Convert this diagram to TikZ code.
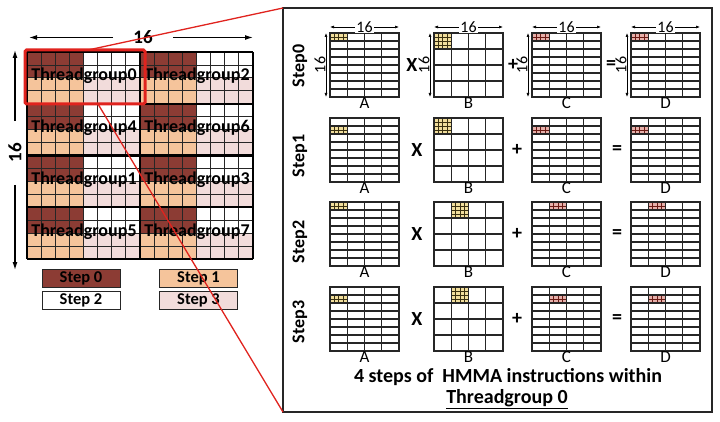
\documentclass[tikz,border=0pt]{standalone}
\usepackage{fontspec}
\setmainfont{Carlito}
\usetikzlibrary{arrows.meta}

\definecolor{stepzero}{HTML}{8C3C34}
\definecolor{stepone}{HTML}{F5C49B}
\definecolor{stepthree}{HTML}{F2DCDB}
\definecolor{zoomred}{HTML}{E0231E}
\definecolor{hiyellow}{HTML}{F1DE9C}
\definecolor{hiyelline}{HTML}{3A3010}
\definecolor{hired}{HTML}{E7B0AA}
\definecolor{hiredline}{HTML}{6B1A14}
\definecolor{gridgray}{HTML}{262626}

\begin{document}
\begin{tikzpicture}[
    x=1pt, y=-1pt,
    cellline/.style={draw=gridgray, line width=0.8pt},
    blockline/.style={draw=black, line width=2.2pt},
    tglabel/.style={font=\bfseries\fontsize{18}{20}\selectfont, inner sep=0pt},
    legendbox/.style={draw=gridgray, line width=1pt, minimum width=78pt, minimum height=18pt,
                      inner sep=0pt, font=\bfseries\fontsize{16.5}{18}\selectfont},
    bigdim/.style={font=\bfseries\fontsize{19}{20}\selectfont, inner ysep=0pt},
    bigarrow/.style={-{Latex[length=8pt,width=5pt]}, line width=1.2pt},
    zoombox/.style={draw=zoomred, line width=3pt, rounded corners=1.5pt},
    zoomline/.style={draw=zoomred, line width=1.3pt},
    panelframe/.style={draw=gridgray, line width=2pt},
    steplabel/.style={rotate=90, font=\bfseries\fontsize{18}{20}\selectfont},
    matbox/.style={draw=gridgray, line width=1.1pt, minimum width=69pt, minimum height=64pt,
                   inner sep=0pt, outer sep=0pt, anchor=north west},
    matline/.style={draw=gridgray, line width=1.1pt},
    tinyline/.style={line width=0.4pt},
    matname/.style={font=\fontsize{17}{18}\selectfont, inner sep=0pt},
    opsign/.style={font=\bfseries\fontsize{20}{20}\selectfont},
    dimline/.style={{Latex[length=4pt,width=3pt]}-{Latex[length=4pt,width=3pt]}, line width=0.6pt},
    dimlabel/.style={font=\fontsize{16}{18}\selectfont, inner sep=1pt},
    caption/.style={font=\bfseries\fontsize{20}{24}\selectfont, inner sep=0pt}
  ]
  \useasboundingbox (0,0) rectangle (720,422);

  % left: the 16x16 tile split into thread groups
  \foreach \bx in {0,1}
    \foreach \by in {0,...,3} {
      \fill[stepzero] ({27+\bx*113},{52+\by*51.75}) rectangle ++(56.5,25.875);
      \fill[stepone] ({27+\bx*113},{77.875+\by*51.75}) rectangle ++(56.5,25.875);
      \fill[stepthree] ({83.5+\bx*113},{77.875+\by*51.75}) rectangle ++(56.5,25.875);
    }
  \foreach \i in {1,...,15} {
    \draw[cellline] ({27+\i*14.125},52) -- ({27+\i*14.125},259);
    \draw[cellline] (27,{52+\i*12.9375}) -- (253,{52+\i*12.9375});
  }
  \foreach \i in {0,1,2}
    \draw[blockline] ({27+\i*113},52) -- ({27+\i*113},259);
  \foreach \j in {0,...,4}
    \draw[blockline] (27,{52+\j*51.75}) -- (253,{52+\j*51.75});
  \foreach \bx/\by/\n in {0/0/0,1/0/2,0/1/4,1/1/6,0/2/1,1/2/3,0/3/5,1/3/7}
    \node[tglabel] (tg\n) at ({84+\bx*113},{76+\by*51.75}) {Threadgroup\n};

  \node[bigdim, inner xsep=20pt] (widthlabel) at (143,37.5) {16};
  \coordinate (widthleft) at (29,37.5);
  \coordinate (widthright) at (253,37.5);
  \draw[bigarrow] (widthlabel) -- (widthleft);
  \draw[bigarrow] (widthlabel) -- (widthright);
  \node[bigdim, rotate=90, inner xsep=22pt] (heightlabel) at (15,153) {16};
  \coordinate (heighttop) at (15,50);
  \coordinate (heightbot) at (15,270);
  \draw[bigarrow] (heightlabel) -- (heighttop);
  \draw[bigarrow] (heightlabel) -- (heightbot);

  \node[legendbox, fill=stepzero] (leg0) at (81,278) {Step 0};
  \node[legendbox, fill=white] (leg2) at (81,300) {Step 2};
  \node[legendbox, fill=stepone] (leg1) at (198.5,278) {Step 1};
  \node[legendbox, fill=stepthree] (leg3) at (198.5,300) {Step 3};

  % right: the four HMMA steps of thread group 0
  \coordinate (panelnw) at (283,8);
  \coordinate (panelse) at (712,412);
  \coordinate (panelsw) at (283,412);
  \draw[panelframe] (panelnw) rectangle (panelse);

  \foreach \s/\ytop/\ay/\bx/\cx/\cy/\ly/\tx/\px/\ex in {0/33/0/0/0/0/66/412/513/611,
      1/118/1/0/0/1/156/417/517/617, 2/202/0/1/1/0/242/417/517/617, 3/287/1/1/1/1/322/417/517/617} {
    \node[steplabel] (step\s) at (300,\ly) {Step\s};
    \foreach \hx/\hy/\hh/\hc/\lc in {330/\ytop+\ay*8/8/hiyellow/hiyelline,
        434+\bx*17.25/\ytop/16/hiyellow/hiyelline,
        532+\cx*17.25/\ytop+\cy*8/8/hired/hiredline,
        631+\cx*17.25/\ytop+\cy*8/8/hired/hiredline} {
      \fill[\hc] ({\hx},{\hy}) rectangle ++(17.25,\hh);
      \foreach \k in {1,2,3}
        \draw[tinyline, draw=\lc] ({\hx+\k*4.3125},{\hy}) -- ++(0,\hh);
      \pgfmathtruncatemacro\nk{\hh/4-1}
      \foreach \k in {1,...,\nk}
        \draw[tinyline, draw=\lc] ({\hx},{\hy+\k*4}) -- ++(17.25,0);
    }
    \foreach \m/\mx/\nr in {A/330/8,B/434/4,C/532/8,D/631/8} {
      \node[matbox] (\m\s) at (\mx,\ytop) {};
      \foreach \i in {1,2,3}
        \draw[matline] ({\mx+\i*17.25},\ytop) -- ++(0,64);
      \pgfmathsetmacro\rh{64/\nr}
      \foreach \j in {1,...,\nr}
        \draw[matline] (\mx,{\ytop+\j*\rh}) -- ++(69,0);
      \node[matname] (name\m\s) at ({\mx+34.5},{\ytop+70}) {\m};
    }
    \node[opsign] (times\s) at (\tx,{\ytop+32}) {X};
    \node[opsign] (plus\s) at (\px,{\ytop+32}) {+};
    \node[opsign] (eq\s) at (\ex,{\ytop+32}) {=};
  }

  \foreach \m in {A,B,C,D} {
    \draw[dimline] ([yshift=6pt]\m0.north west) -- node[dimlabel, fill=white] (width\m) {16}
      ([yshift=6pt]\m0.north east);
    \draw[dimline] ([xshift=-4pt]\m0.north west) -- ([xshift=-4pt]\m0.south west);
    \node[dimlabel, rotate=90] (height\m) at ([xshift=-10pt]\m0.west) {16};
  }

  \node[caption] (caption) at (508,377) {4 steps of\ \ HMMA instructions within};
  \node[caption] (captiontg) at (507,399) {\underline{Threadgroup 0}};

  % zoom from thread group 0 to the panel
  \coordinate (zoomnw) at (25,50);
  \coordinate (zoomse) at (145,104);
  \draw[zoombox] (zoomnw) rectangle (zoomse);
  \coordinate (zoomtop) at (88,50);
  \coordinate (zoombot) at (98,104);
  \draw[zoomline] (zoomtop) -- (panelnw);
  \draw[zoomline] (zoombot) -- (panelsw);
\end{tikzpicture}
\end{document}
